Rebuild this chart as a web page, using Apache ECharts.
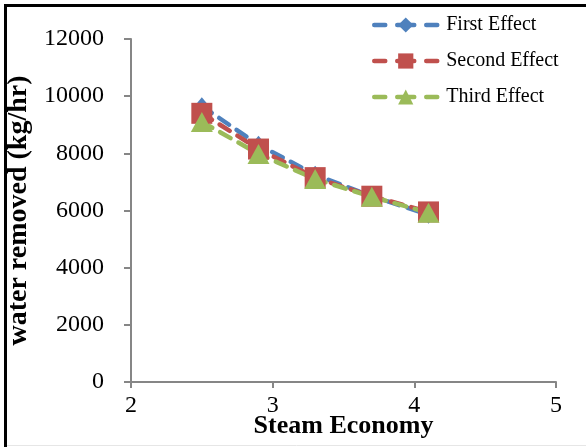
<!DOCTYPE html>
<html><head><meta charset="utf-8">
<script src="https://cdn.jsdelivr.net/npm/echarts@6/dist/echarts.min.js"></script>
<style>html,body{margin:0;padding:0;background:#fff}#c{width:586px;height:447px}</style>
</head><body><div id="c"></div>
<script>
const xValues = [2.5, 2.9, 3.3, 3.7, 4.1];
const firstEffect = [9650, 8300, 7250, 6500, 5850];
const secondEffect = [9400, 8150, 7150, 6500, 5950];
const thirdEffect = [9100, 7980, 7100, 6480, 5920];
const seriesNames = ['First Effect', 'Second Effect', 'Third Effect'];
const xTitle = 'Steam Economy';
const yTitle = 'water removed (kg/hr)';

const FONT = '"Liberation Serif", serif';
const pair = (vals) => xValues.map((x, i) => [x, vals[i]]);
const dash = { width: 4.5, type: [12, 9], cap: 'round' };
const chart = echarts.init(document.getElementById('c'), null, {renderer: 'canvas'});
chart.setOption({
  animation: false,
  backgroundColor: '#fff',
  grid: { left: 131, right: 30, top: 39, bottom: 65, containLabel: false, outerBoundsMode: 'none' },
  legend: {
    orient: 'vertical', left: 367, top: 10, itemGap: 16, itemWidth: 63, itemHeight: 19,
    textStyle: { fontFamily: FONT, fontSize: 20, color: '#000', padding: [0,0,0,4] },
    lineStyle: { width: 4.5, type: [11, 12, 17, 12, 11], cap: 'round' },
    data: seriesNames
  },
  xAxis: {
    type: 'value', min: 2, max: 5, interval: 1,
    name: xTitle, nameLocation: 'middle', nameGap: 31, nameMoveOverlap: false,
    nameTextStyle: { fontFamily: FONT, fontSize: 26, fontWeight: 'bold', color: '#000' },
    axisLine: { lineStyle: { color: '#868686', width: 2 } },
    axisTick: { show: true, inside: false, length: 6, lineStyle: { color: '#868686', width: 2 } },
    axisLabel: { fontFamily: FONT, fontSize: 24, color: '#000', margin: 12 },
    splitLine: { show: false }
  },
  yAxis: {
    type: 'value', min: 0, max: 12000, interval: 2000,
    name: yTitle, nameLocation: 'middle', nameGap: 98, nameRotate: 90, nameMoveOverlap: false,
    nameTextStyle: { fontFamily: FONT, fontSize: 28, fontWeight: 'bold', color: '#000' },
    axisLine: { show: true, lineStyle: { color: '#868686', width: 2 } },
    axisTick: { show: true, inside: false, length: 7, lineStyle: { color: '#868686', width: 2 } },
    axisLabel: { fontFamily: FONT, fontSize: 24, color: '#000', margin: 27, formatter: (v) => String(v) },
    splitLine: { show: false }
  },
  series: [
    { name: seriesNames[0], type: 'line', data: pair(firstEffect), symbol: 'diamond', symbolSize: [15, 18],
      itemStyle: { color: '#4F81BD' }, lineStyle: Object.assign({ color: '#4F81BD' }, dash) },
    { name: seriesNames[1], type: 'line', data: pair(secondEffect), symbol: 'rect', symbolSize: 21,
      itemStyle: { color: '#C0504D' }, lineStyle: Object.assign({ color: '#C0504D' }, dash) },
    { name: seriesNames[2], type: 'line', data: pair(thirdEffect), symbol: 'triangle', symbolSize: [22, 20],
      itemStyle: { color: '#9BBB59' }, lineStyle: Object.assign({ color: '#9BBB59' }, dash) }
  ],
  graphic: [
    { type: 'line', shape: { x1: 5.5, y1: 5.5, x2: 5.5, y2: 447 }, style: { stroke: '#000', lineWidth: 3 } },
    { type: 'line', shape: { x1: 4, y1: 5.5, x2: 586, y2: 5.5 }, style: { stroke: '#000', lineWidth: 3 } },
    { type: 'line', shape: { x1: 7, y1: 445.5, x2: 586, y2: 445.5 }, style: { stroke: '#e6e6e6', lineWidth: 1 } }
  ]
});
</script></body></html>
